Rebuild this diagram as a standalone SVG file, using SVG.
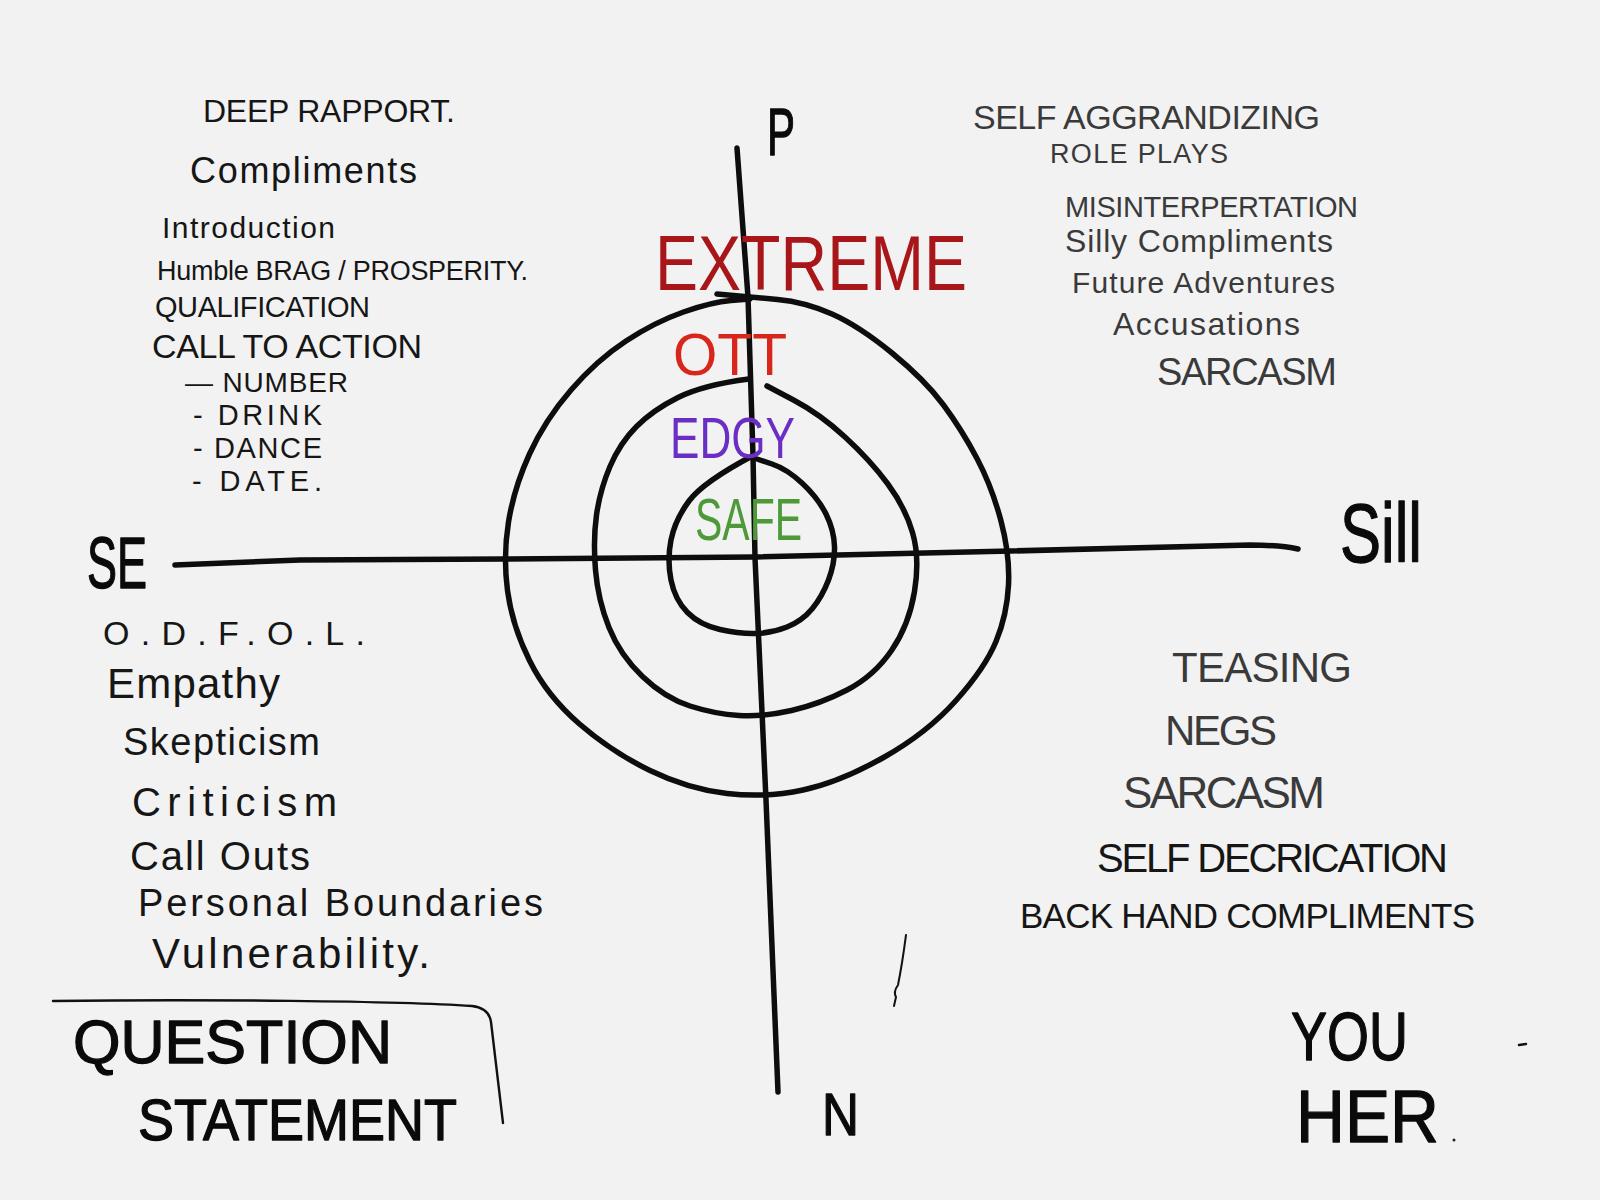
<svg xmlns="http://www.w3.org/2000/svg" width="1600" height="1200" viewBox="0 0 1600 1200">
<style>
.bg{fill:#f2f2f2}
.ink{fill:none;stroke:#0d0d0d;stroke-width:5.5;stroke-linecap:round;stroke-linejoin:round}
.pen{fill:none;stroke:#111;stroke-width:2.4;stroke-linecap:round;stroke-linejoin:round}
text{font-family:"Liberation Sans","Arial",sans-serif;font-weight:400}
.t{fill:#161616}
.g{fill:#3a3a3a}
.b{fill:#0a0a0a;stroke:#0a0a0a;stroke-width:1.3;stroke-linejoin:round}
.ext{fill:#a8161a}
.ott{fill:#d8261c}
.edgy{fill:#6b2ec4}
.safe{fill:#4e9a3a}
</style>
<rect class="bg" x="0" y="0" width="1600" height="1200"/>

<g id="connectors">
  <path id="axis-vertical" class="ink" d="M737,148 L748,297 L753,456 L755,558 L766,800 L778,1092"/>
  <path id="axis-horizontal" class="ink" d="M175,565 L300,560 L504,559 L755,557 L1011,551 L1250,545 Q1280,545 1298,549"/>
  <path id="ring-outer" class="ink" d="M717,294 Q750,297 777.5,299.5 Q805,302 832,314 Q859,326 892,353 Q925,380 943.5,405 Q962,430 977,458.5 Q992,487 1001,521 Q1010,555 1008.5,585 Q1007,615 996,641.5 Q985,668 956,700.5 Q927,733 883.5,757.5 Q840,782 803,790 Q766,798 727,793.5 Q688,789 650,770.5 Q612,752 579.5,724 Q547,696 529.5,660.5 Q512,625 507.5,590.5 Q503,556 508.5,522 Q514,488 529.5,454 Q545,420 571,390 Q597,360 626,341 Q655,322 683.5,312 Q712,302 731,300.5 L750,299"/>
  <path id="ring-middle" class="ink" d="M749,379 Q703,385 678,397.5 Q653,410 636.5,426.5 Q620,443 610,466.5 Q600,490 596.5,515 Q593,540 595.5,570 Q598,600 609,627.5 Q620,655 642.5,676.5 Q665,698 690,706 Q715,714 739,715.5 Q763,717 791.5,710.5 Q820,704 847,690 Q874,676 891.5,650.5 Q909,625 914.5,591.5 Q920,558 912.5,532.5 Q905,507 887.5,483.5 Q870,460 845,437 Q820,414 793.5,400 L767,386"/>
  <path id="ring-inner" class="ink" d="M754,455 Q703,482 689,501 Q675,520 671,540 Q667,560 671,580 Q675,600 687.5,612.5 Q700,625 720,629.5 Q740,634 756,633.5 Q772,633 787,627 Q802,621 812,609 Q822,597 828.5,580 Q835,563 834.5,546.5 Q834,530 826,514 Q818,498 802.5,483.5 Q787,469 772,464 L757,459"/>
  <path id="box-line" class="pen" d="M53,1001 C200,999 400,1001 472,1006 Q489,1008 491,1022 L503,1123"/>
  <path id="stray-mark" class="pen" style="stroke-width:2" d="M906,935 C903,958 900,975 898,985 Q893,992 896,997 L894,1006"/>
  <path id="stray-dash" class="pen" style="stroke-width:2.5" d="M1519,1045 L1526,1044"/>
  <circle id="stray-dot" cx="1454" cy="1140" r="1.5" fill="#222"/>
</g>

<g id="axis-labels">
  <g id="label-p"><text class="b" x="767" y="155" font-size="66" textLength="28" lengthAdjust="spacingAndGlyphs">P</text></g>
  <g id="label-n"><text class="b" x="822" y="1135" font-size="60" textLength="37" lengthAdjust="spacingAndGlyphs">N</text></g>
  <g id="label-se"><text class="b" x="87" y="588" font-size="72" textLength="60" lengthAdjust="spacingAndGlyphs">SE</text></g>
  <g id="label-sill"><text class="b" x="1340" y="562" font-size="84" textLength="82" lengthAdjust="spacingAndGlyphs">Sill</text></g>
</g>

<g id="ring-labels">
  <g id="label-extreme"><text class="ext" x="655" y="290" font-size="78" textLength="312" lengthAdjust="spacingAndGlyphs">EXTREME</text></g>
  <g id="label-ott"><text class="ott" x="673" y="375" font-size="60" textLength="114" lengthAdjust="spacingAndGlyphs">OTT</text></g>
  <g id="label-edgy"><text class="edgy" x="670" y="458" font-size="58" textLength="125" lengthAdjust="spacingAndGlyphs">EDGY</text></g>
  <g id="label-safe"><text class="safe" x="695" y="540" font-size="60" textLength="107" lengthAdjust="spacingAndGlyphs">SAFE</text></g>
</g>

<g id="list-top-left">
  <text class="t" x="203" y="122" font-size="32" textLength="252" lengthAdjust="spacing">DEEP RAPPORT.</text>
  <text class="t" x="190" y="183" font-size="36" textLength="227" lengthAdjust="spacing">Compliments</text>
  <text class="t" x="162" y="238" font-size="30" textLength="173" lengthAdjust="spacing">Introduction</text>
  <text class="t" x="157" y="280" font-size="27" textLength="371" lengthAdjust="spacing">Humble BRAG / PROSPERITY.</text>
  <text class="t" x="155" y="317" font-size="29" textLength="215" lengthAdjust="spacing">QUALIFICATION</text>
  <text class="t" x="152" y="358" font-size="34" textLength="270" lengthAdjust="spacing">CALL TO ACTION</text>
  <text class="t" x="185" y="392" font-size="28" textLength="163" lengthAdjust="spacing">— NUMBER</text>
  <text class="t" x="193" y="425" font-size="29" textLength="129" lengthAdjust="spacing">- DRINK</text>
  <text class="t" x="193" y="458" font-size="29" textLength="129" lengthAdjust="spacing">- DANCE</text>
  <text class="t" x="192" y="491" font-size="29" textLength="130" lengthAdjust="spacing">- DATE.</text>
</g>

<g id="list-top-right">
  <text class="g" x="973" y="129" font-size="34" textLength="347" lengthAdjust="spacing">SELF AGGRANDIZING</text>
  <text class="g" x="1050" y="163" font-size="27" textLength="178" lengthAdjust="spacing">ROLE PLAYS</text>
  <text class="g" x="1065" y="217" font-size="29" textLength="293" lengthAdjust="spacing">MISINTERPERTATION</text>
  <text class="g" x="1065" y="252" font-size="32" textLength="268" lengthAdjust="spacing">Silly Compliments</text>
  <text class="g" x="1072" y="293" font-size="30" textLength="263" lengthAdjust="spacing">Future Adventures</text>
  <text class="g" x="1113" y="335" font-size="32" textLength="187" lengthAdjust="spacing">Accusations</text>
  <text class="g" x="1157" y="385" font-size="38" textLength="180" lengthAdjust="spacing">SARCASM</text>
</g>

<g id="list-bottom-left">
  <text class="t" x="103" y="645" font-size="34" textLength="262" lengthAdjust="spacing">O.D.F.O.L.</text>
  <text class="t" x="107" y="698" font-size="42" textLength="173" lengthAdjust="spacing">Empathy</text>
  <text class="t" x="123" y="755" font-size="38" textLength="197" lengthAdjust="spacing">Skepticism</text>
  <text class="t" x="132" y="816" font-size="40" textLength="205" lengthAdjust="spacing">Criticism</text>
  <text class="t" x="130" y="870" font-size="40" textLength="180" lengthAdjust="spacing">Call Outs</text>
  <text class="t" x="138" y="916" font-size="38" textLength="405" lengthAdjust="spacing">Personal Boundaries</text>
  <text class="t" x="152" y="968" font-size="42" textLength="278" lengthAdjust="spacing">Vulnerability.</text>
</g>

<g id="list-bottom-right">
  <text class="g" x="1172" y="682" font-size="42" textLength="180" lengthAdjust="spacing">TEASING</text>
  <text class="g" x="1165" y="745" font-size="42" textLength="112" lengthAdjust="spacing">NEGS</text>
  <text class="g" x="1123" y="808" font-size="44" textLength="202" lengthAdjust="spacing">SARCASM</text>
  <text class="t" x="1097" y="872" font-size="40" textLength="351" lengthAdjust="spacing">SELF DECRICATION</text>
  <text class="t" x="1020" y="928" font-size="35" textLength="455" lengthAdjust="spacing">BACK HAND COMPLIMENTS</text>
</g>

<g id="box-question">
  <text class="b" x="73" y="1063" font-size="62" textLength="319" lengthAdjust="spacingAndGlyphs">QUESTION</text>
  <text class="b" x="138" y="1140" font-size="58" textLength="319" lengthAdjust="spacingAndGlyphs">STATEMENT</text>
</g>

<g id="legend-you-her">
  <text class="b" x="1291" y="1060" font-size="68" textLength="117" lengthAdjust="spacingAndGlyphs">YOU</text>
  <text class="b" x="1296" y="1142" font-size="74" textLength="143" lengthAdjust="spacingAndGlyphs">HER</text>
</g>
</svg>
